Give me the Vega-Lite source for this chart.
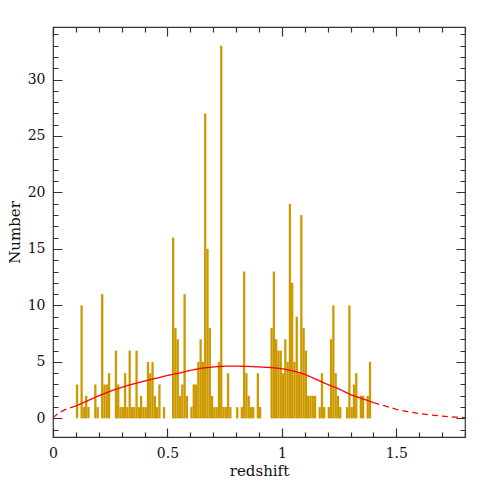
{
  "$schema": "https://vega.github.io/schema/vega-lite/v6.json",
  "width": 412,
  "height": 410,
  "autosize": {"type": "none"},
  "padding": {"left": 53, "top": 27, "right": 26, "bottom": 54},
  "background": "white",
  "config": {
    "view": {"stroke": "#333", "strokeWidth": 1.2},
    "axis": {
      "labelFont": "DejaVu Serif", "labelFontSize": 14, "labelColor": "#111",
      "titleFont": "DejaVu Serif", "titleFontSize": 15, "titleFontWeight": "normal", "titleColor": "#111",
      "domain": false, "ticks": false,
      "grid": true, "gridColor": "#333", "gridWidth": 1.2, "gridOpacity": 1
    }
  },
  "datasets": {
    "bins": [
      {"z0": 0.10, "z1": 0.11, "n": 3}, {"z0": 0.12, "z1": 0.13, "n": 10}, {"z0": 0.13, "z1": 0.14, "n": 1},
      {"z0": 0.14, "z1": 0.15, "n": 2}, {"z0": 0.15, "z1": 0.16, "n": 1}, {"z0": 0.18, "z1": 0.19, "n": 3},
      {"z0": 0.19, "z1": 0.20, "n": 1}, {"z0": 0.21, "z1": 0.22, "n": 11}, {"z0": 0.22, "z1": 0.23, "n": 3},
      {"z0": 0.23, "z1": 0.24, "n": 3}, {"z0": 0.24, "z1": 0.25, "n": 4}, {"z0": 0.27, "z1": 0.28, "n": 6},
      {"z0": 0.28, "z1": 0.29, "n": 3}, {"z0": 0.29, "z1": 0.30, "n": 1}, {"z0": 0.30, "z1": 0.31, "n": 1},
      {"z0": 0.31, "z1": 0.32, "n": 4}, {"z0": 0.32, "z1": 0.33, "n": 1}, {"z0": 0.33, "z1": 0.34, "n": 6},
      {"z0": 0.34, "z1": 0.35, "n": 1}, {"z0": 0.35, "z1": 0.36, "n": 1}, {"z0": 0.36, "z1": 0.37, "n": 6},
      {"z0": 0.37, "z1": 0.38, "n": 1}, {"z0": 0.38, "z1": 0.39, "n": 2}, {"z0": 0.39, "z1": 0.40, "n": 1},
      {"z0": 0.40, "z1": 0.41, "n": 1}, {"z0": 0.41, "z1": 0.42, "n": 5}, {"z0": 0.42, "z1": 0.43, "n": 4},
      {"z0": 0.43, "z1": 0.44, "n": 5}, {"z0": 0.44, "z1": 0.45, "n": 2}, {"z0": 0.45, "z1": 0.46, "n": 1},
      {"z0": 0.46, "z1": 0.47, "n": 3}, {"z0": 0.48, "z1": 0.49, "n": 1}, {"z0": 0.52, "z1": 0.53, "n": 16},
      {"z0": 0.53, "z1": 0.54, "n": 8}, {"z0": 0.54, "z1": 0.55, "n": 7}, {"z0": 0.55, "z1": 0.56, "n": 2},
      {"z0": 0.56, "z1": 0.57, "n": 3}, {"z0": 0.57, "z1": 0.58, "n": 11}, {"z0": 0.58, "z1": 0.59, "n": 2},
      {"z0": 0.60, "z1": 0.61, "n": 1}, {"z0": 0.61, "z1": 0.62, "n": 3}, {"z0": 0.62, "z1": 0.63, "n": 3},
      {"z0": 0.63, "z1": 0.64, "n": 5}, {"z0": 0.64, "z1": 0.65, "n": 7}, {"z0": 0.65, "z1": 0.66, "n": 5},
      {"z0": 0.66, "z1": 0.67, "n": 27}, {"z0": 0.67, "z1": 0.68, "n": 15}, {"z0": 0.68, "z1": 0.69, "n": 8},
      {"z0": 0.69, "z1": 0.70, "n": 2}, {"z0": 0.70, "z1": 0.71, "n": 1}, {"z0": 0.71, "z1": 0.72, "n": 1},
      {"z0": 0.72, "z1": 0.73, "n": 5}, {"z0": 0.73, "z1": 0.74, "n": 33}, {"z0": 0.74, "z1": 0.75, "n": 1},
      {"z0": 0.75, "z1": 0.76, "n": 1}, {"z0": 0.76, "z1": 0.77, "n": 4}, {"z0": 0.77, "z1": 0.78, "n": 1},
      {"z0": 0.80, "z1": 0.81, "n": 1}, {"z0": 0.82, "z1": 0.83, "n": 1}, {"z0": 0.83, "z1": 0.84, "n": 13},
      {"z0": 0.84, "z1": 0.85, "n": 4}, {"z0": 0.85, "z1": 0.86, "n": 2}, {"z0": 0.86, "z1": 0.87, "n": 1},
      {"z0": 0.87, "z1": 0.88, "n": 1}, {"z0": 0.89, "z1": 0.90, "n": 4}, {"z0": 0.90, "z1": 0.91, "n": 1},
      {"z0": 0.95, "z1": 0.96, "n": 8}, {"z0": 0.96, "z1": 0.97, "n": 13}, {"z0": 0.97, "z1": 0.98, "n": 7},
      {"z0": 0.98, "z1": 0.99, "n": 6}, {"z0": 0.99, "z1": 1.00, "n": 6}, {"z0": 1.00, "z1": 1.01, "n": 4},
      {"z0": 1.01, "z1": 1.02, "n": 7}, {"z0": 1.02, "z1": 1.03, "n": 5}, {"z0": 1.03, "z1": 1.04, "n": 19},
      {"z0": 1.04, "z1": 1.05, "n": 12}, {"z0": 1.05, "z1": 1.06, "n": 5}, {"z0": 1.06, "z1": 1.07, "n": 9},
      {"z0": 1.07, "z1": 1.08, "n": 4}, {"z0": 1.08, "z1": 1.09, "n": 18}, {"z0": 1.09, "z1": 1.10, "n": 8},
      {"z0": 1.10, "z1": 1.11, "n": 6}, {"z0": 1.11, "z1": 1.12, "n": 2}, {"z0": 1.12, "z1": 1.13, "n": 2},
      {"z0": 1.13, "z1": 1.14, "n": 2}, {"z0": 1.14, "z1": 1.15, "n": 2}, {"z0": 1.16, "z1": 1.17, "n": 1},
      {"z0": 1.17, "z1": 1.18, "n": 4}, {"z0": 1.18, "z1": 1.19, "n": 1}, {"z0": 1.20, "z1": 1.21, "n": 1},
      {"z0": 1.21, "z1": 1.22, "n": 7}, {"z0": 1.22, "z1": 1.23, "n": 10}, {"z0": 1.23, "z1": 1.24, "n": 4},
      {"z0": 1.24, "z1": 1.25, "n": 2}, {"z0": 1.25, "z1": 1.26, "n": 1}, {"z0": 1.28, "z1": 1.29, "n": 1},
      {"z0": 1.29, "z1": 1.30, "n": 10}, {"z0": 1.30, "z1": 1.31, "n": 1}, {"z0": 1.31, "z1": 1.32, "n": 3},
      {"z0": 1.32, "z1": 1.33, "n": 4}, {"z0": 1.34, "z1": 1.35, "n": 2}, {"z0": 1.35, "z1": 1.36, "n": 2},
      {"z0": 1.37, "z1": 1.38, "n": 2}, {"z0": 1.38, "z1": 1.39, "n": 5}
    ],
    "curve": [
      {"z": 0.0, "n": 0.05, "part": "left"}, {"z": 0.02, "n": 0.4, "part": "left"}, {"z": 0.05, "n": 0.75, "part": "left"}, {"z": 0.1, "n": 1.1, "part": "left"},
      {"z": 0.1, "n": 1.1, "part": "mid"}, {"z": 0.15, "n": 1.55, "part": "mid"}, {"z": 0.2, "n": 2.0, "part": "mid"}, {"z": 0.25, "n": 2.4, "part": "mid"},
      {"z": 0.3, "n": 2.75, "part": "mid"}, {"z": 0.35, "n": 3.05, "part": "mid"}, {"z": 0.4, "n": 3.3, "part": "mid"}, {"z": 0.45, "n": 3.55, "part": "mid"},
      {"z": 0.5, "n": 3.8, "part": "mid"}, {"z": 0.55, "n": 4.0, "part": "mid"}, {"z": 0.6, "n": 4.25, "part": "mid"}, {"z": 0.65, "n": 4.45, "part": "mid"},
      {"z": 0.7, "n": 4.55, "part": "mid"}, {"z": 0.75, "n": 4.62, "part": "mid"}, {"z": 0.8, "n": 4.63, "part": "mid"}, {"z": 0.85, "n": 4.6, "part": "mid"},
      {"z": 0.9, "n": 4.55, "part": "mid"}, {"z": 0.95, "n": 4.5, "part": "mid"}, {"z": 1.0, "n": 4.4, "part": "mid"}, {"z": 1.05, "n": 4.2, "part": "mid"},
      {"z": 1.1, "n": 3.9, "part": "mid"}, {"z": 1.15, "n": 3.45, "part": "mid"}, {"z": 1.2, "n": 3.0, "part": "mid"}, {"z": 1.25, "n": 2.6, "part": "mid"},
      {"z": 1.3, "n": 2.1, "part": "mid"}, {"z": 1.35, "n": 1.75, "part": "mid"}, {"z": 1.4, "n": 1.4, "part": "mid"},
      {"z": 1.4, "n": 1.4, "part": "right"}, {"z": 1.45, "n": 1.1, "part": "right"}, {"z": 1.5, "n": 0.8, "part": "right"}, {"z": 1.55, "n": 0.6, "part": "right"},
      {"z": 1.6, "n": 0.42, "part": "right"}, {"z": 1.65, "n": 0.3, "part": "right"}, {"z": 1.7, "n": 0.2, "part": "right"}, {"z": 1.75, "n": 0.12, "part": "right"},
      {"z": 1.8, "n": 0.07, "part": "right"}
    ]
  },
  "layer": [
    {
      "data": {"name": "bins"},
      "mark": {"type": "bar", "color": "#CC9900", "strokeWidth": 0},
      "encoding": {
        "x": {
          "field": "z0", "type": "quantitative",
          "scale": {"domain": [0, 1.8], "nice": false, "zero": false},
          "axis": {
            "orient": "bottom", "title": "redshift", "titlePadding": 3,
            "values": [0, 0.1, 0.2, 0.3, 0.4, 0.5, 0.6, 0.7, 0.8, 0.9, 1, 1.1, 1.2, 1.3, 1.4, 1.5, 1.6, 1.7, 1.8],
            "tickCount": 500,
            "format": "~g",
            "labelExpr": "abs(datum.value*2 - round(datum.value*2)) < 0.000001 ? datum.label : ''",
            "gridDash": {"condition": {"test": "abs(datum.value*2 - round(datum.value*2)) < 0.000001", "value": [9, 392, 9, 1000]}, "value": [5, 400, 5, 1000]},
            "labelPadding": 9, "labelFlush": false, "labelOverlap": false
          }
        },
        "x2": {"field": "z1"},
        "y": {
          "field": "n", "type": "quantitative",
          "scale": {"domain": [-1.65, 34.65], "nice": false, "zero": false},
          "axis": {
            "orient": "left", "title": "Number", "titlePadding": 5,
            "values": [-1, 0, 1, 2, 3, 4, 5, 6, 7, 8, 9, 10, 11, 12, 13, 14, 15, 16, 17, 18, 19, 20, 21, 22, 23, 24, 25, 26, 27, 28, 29, 30, 31, 32, 33, 34],
            "tickCount": 500,
            "format": "~g",
            "labelExpr": "datum.value % 5 == 0 ? datum.label : ''",
            "gridDash": {"condition": {"test": "datum.value % 5 == 0", "value": [9, 394, 9, 1000]}, "value": [5, 402, 5, 1000]},
            "labelPadding": 8, "labelFlush": false, "labelOverlap": false
          }
        },
        "y2": {"datum": 0}
      }
    },
    {
      "mark": {"type": "rule", "color": "#555", "strokeWidth": 1.5},
      "encoding": {"y": {"datum": 0, "type": "quantitative"}}
    },
    {
      "data": {"name": "curve"},
      "mark": {"type": "line", "color": "#FF0000", "strokeWidth": 1.3},
      "encoding": {
        "x": {"field": "z", "type": "quantitative"},
        "y": {"field": "n", "type": "quantitative"},
        "detail": {"field": "part"},
        "strokeDash": {
          "field": "part", "type": "nominal",
          "scale": {"domain": ["left", "mid", "right"], "range": [[6, 4], [1, 0], [6, 4]]},
          "legend": null
        }
      }
    }
  ]
}
